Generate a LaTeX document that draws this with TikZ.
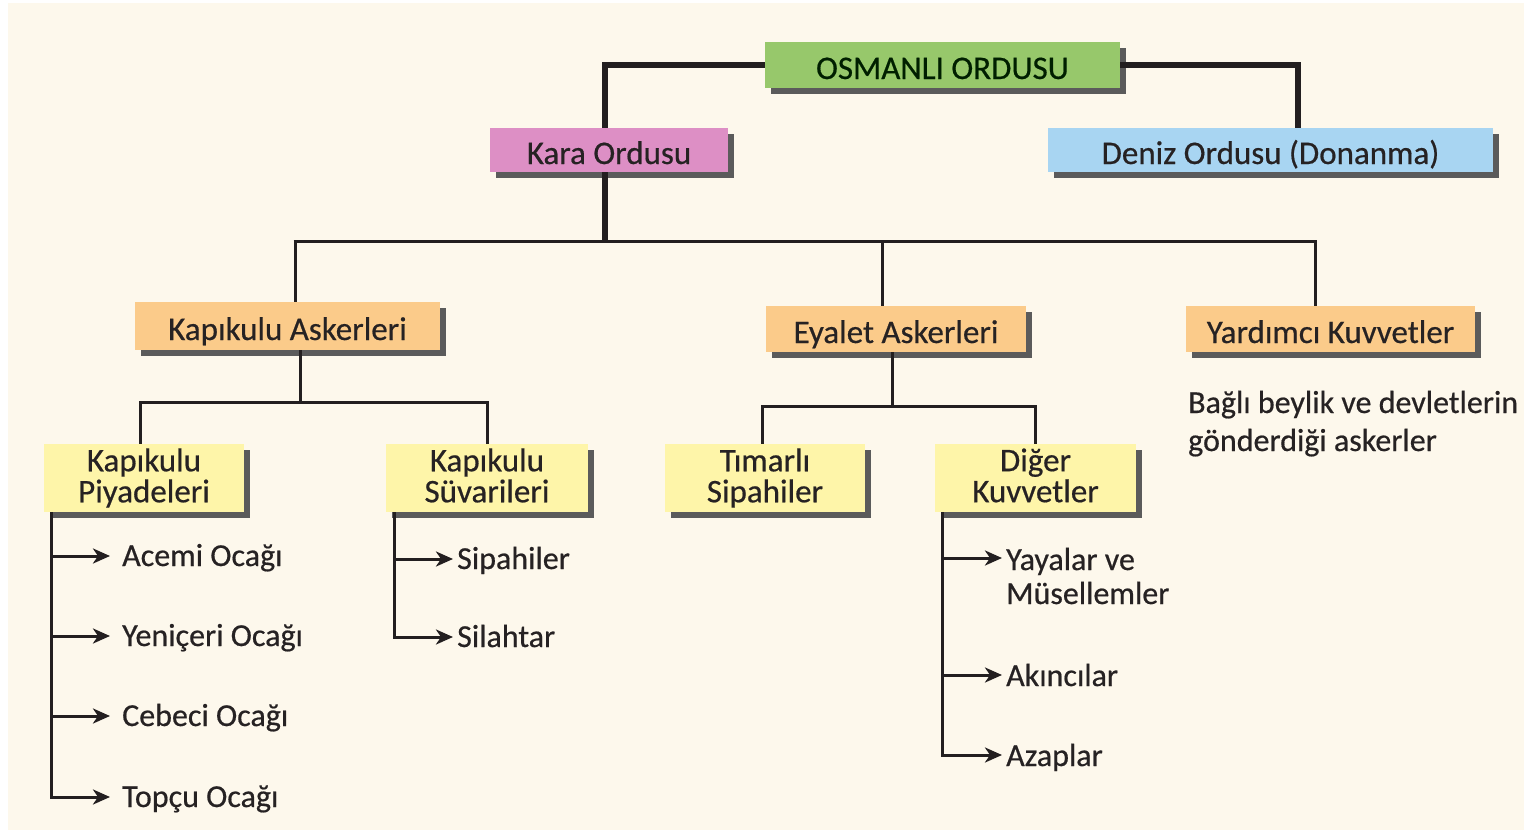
\documentclass[tikz,border=0pt]{standalone}
\usepackage{fontspec}
\setmainfont{Carlito}[FakeBold=0.5]
\usetikzlibrary{shadows,arrows.meta}
\definecolor{bgc}{HTML}{FDF8EC}
\definecolor{lnc}{HTML}{231F20}
\definecolor{shc}{HTML}{5B5B5B}
\definecolor{grn}{HTML}{97C86B}
\definecolor{pnk}{HTML}{DD8FC5}
\definecolor{blu}{HTML}{A8D5F2}
\definecolor{org}{HTML}{FBCB8A}
\definecolor{ylw}{HTML}{FEF5A9}
\definecolor{txc}{HTML}{262223}
\tikzset{
  box/.style={draw=none, inner sep=0pt, align=center, text=txc,
    font=\fontsize{33}{31}\selectfont,
    drop shadow={shadow xshift=6pt, shadow yshift=-6pt, fill=shc, opacity=1}},
  onebox/.style={box, text height=29pt, text depth=1pt},
  item/.style={anchor=base west, inner sep=0pt, text=txc, align=left,
    font=\fontsize{32}{34}\selectfont},
  thickln/.style={draw=lnc, line width=6pt},
  conn/.style={draw=lnc, line width=3pt},
  arr/.style={draw=lnc, line width=3pt, -{Stealth[length=17pt,width=15pt,inset=5pt]}}
}
\begin{document}
\begin{tikzpicture}[x=1pt,y=-1pt]
\useasboundingbox (0,0) rectangle (1524,830);
\fill[white] (0,0) rectangle (1524,830);
\fill[bgc] (8,3) rectangle (1524,830);

% boxes
\node[onebox, fill=grn, minimum width=355pt, minimum height=46pt, text=black!80!green!60!black] (osm) at (942.5,65) {OSMANLI ORDUSU};
\node[onebox, fill=pnk, minimum width=238pt, minimum height=44pt] (kara) at (609,150) {Kara Ordusu};
\node[onebox, fill=blu, minimum width=445pt, minimum height=44pt] (deniz) at (1270.5,150) {Deniz Ordusu (Donanma)};
\node[onebox, fill=org, minimum width=305pt, minimum height=48pt] (kapi) at (287.5,326) {Kapıkulu Askerleri};
\node[onebox, fill=org, minimum width=260pt, minimum height=46pt] (eyalet) at (896,329) {Eyalet Askerleri};
\node[onebox, fill=org, minimum width=289pt, minimum height=46pt] (yard) at (1330.5,329) {Yardımcı Kuvvetler};
\node[box, fill=ylw, minimum width=200pt, minimum height=68pt] (piy) at (144,478) {Kapıkulu\\Piyadeleri\vphantom{y}};
\node[box, fill=ylw, minimum width=202pt, minimum height=68pt] (suv) at (487,478) {Kapıkulu\\Süvarileri\vphantom{y}};
\node[box, fill=ylw, minimum width=200pt, minimum height=68pt] (tim) at (765,478) {Tımarlı\\Sipahiler\vphantom{y}};
\node[box, fill=ylw, minimum width=201pt, minimum height=68pt] (diger) at (1035.5,478) {Diğer\\Kuvvetler\vphantom{y}};

% description under Yardımcı Kuvvetler
\node[anchor=base west, inner sep=0pt, align=left, text=txc,
  font=\fontsize{32}{38}\selectfont] (desc) at (1188,451)
  {Bağlı beylik ve devletlerin\\gönderdiği askerler};

% arrow end points and list items
\coordinate (a1) at (110,556);  \node[item] (acemi)  at (122,566) {Acemi Ocağı};
\coordinate (a2) at (110,636);  \node[item] (yeni)   at (122,646) {Yeniçeri Ocağı};
\coordinate (a3) at (110,716);  \node[item] (cebeci) at (122,726) {Cebeci Ocağı};
\coordinate (a4) at (110,797);  \node[item] (topcu)  at (122,807) {Topçu Ocağı};
\coordinate (b1) at (453,559);  \node[item] (sipahi) at (457,569) {Sipahiler};
\coordinate (b2) at (453,637);  \node[item] (silah)  at (457,647) {Silahtar};
\coordinate (c1) at (1002,558); \node[item] (yaya)   at (1006,604) {Yayalar ve\\Müsellemler};
\coordinate (c2) at (1002,675); \node[item] (akinci) at (1006,686) {Akıncılar};
\coordinate (c3) at (1002,755); \node[item] (azap)   at (1006,766) {Azaplar};

% top-level connectors
\draw[thickln] (osm.west) -| ([xshift=-4pt]kara.north);
\draw[thickln] (osm.east) -| ([xshift=27.5pt]deniz.north);
\coordinate (busL) at (295,241);
\coordinate (busR) at (1315,241);
\draw[thickln] ([xshift=-4pt]kara.south) -- ([xshift=-4pt]kara.south |- busL);
\draw[conn] ([xshift=-1.5pt]busL) -- ([xshift=1.5pt]busR);
\draw[conn] (busL) -- (busL |- kapi.north);
\draw[conn] ([xshift=-14pt]eyalet.north |- busL) -- ([xshift=-14pt]eyalet.north);
\draw[conn] (busR) -- (busR |- yard.north);

% Kapıkulu Askerleri branch
\coordinate (kbus) at ([xshift=12.5pt]kapi.south |- 0,402);
\draw[conn] ([xshift=12.5pt]kapi.south) -- (kbus);
\draw[conn] ([xshift=-4pt]piy.north) |- (suv.north |- kbus) -- (suv.north);

% Eyalet Askerleri branch
\coordinate (ebus) at ([xshift=-4pt]eyalet.south |- 0,406);
\draw[conn] ([xshift=-4pt]eyalet.south) -- (ebus);
\draw[conn] ([xshift=-3pt]tim.north) |- (diger.north |- ebus) -- (diger.north);

% Piyadeleri list
\coordinate (pt) at ([xshift=8pt]piy.south west);
\draw[conn] (pt) -- ([yshift=-1.5pt]pt |- a4);
\draw[arr] ([xshift=-1.5pt]pt |- a4) -- (a4);
\draw[arr] (pt |- a1) -- (a1);
\draw[arr] (pt |- a2) -- (a2);
\draw[arr] (pt |- a3) -- (a3);

% Süvarileri list
\coordinate (st) at ([xshift=9pt]suv.south west);
\draw[conn] (st) -- ([yshift=-1.5pt]st |- b2);
\draw[arr] (st |- b1) -- (b1);
\draw[arr] ([xshift=-1.5pt]st |- b2) -- (b2);

% Diğer Kuvvetler list
\coordinate (dt) at ([xshift=8pt]diger.south west);
\draw[conn] (dt) -- ([yshift=-1.5pt]dt |- c3);
\draw[arr] (dt |- c1) -- (c1);
\draw[arr] (dt |- c2) -- (c2);
\draw[arr] ([xshift=-1.5pt]dt |- c3) -- (c3);
\end{tikzpicture}
\end{document}
